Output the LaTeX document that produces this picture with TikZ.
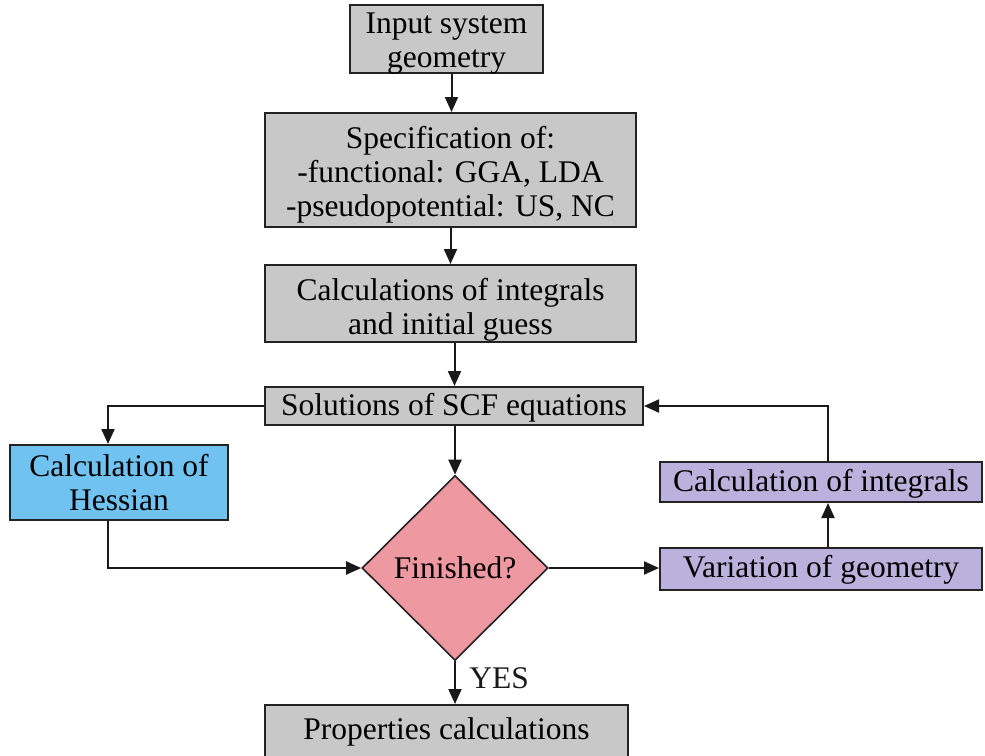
\documentclass[tikz,border=0pt]{standalone}
\usepackage{fontspec}
\setmainfont{Liberation Serif}
\usepackage{tikz}
\usetikzlibrary{shapes.geometric,arrows.meta,positioning}
\definecolor{boxgrey}{RGB}{200,200,200}
\definecolor{hessblue}{RGB}{112,194,240}
\definecolor{finpink}{RGB}{238,152,162}
\definecolor{lilac}{RGB}{186,178,220}
\definecolor{edgegrey}{RGB}{35,35,35}
% text of a box, moved down (or up) inside it
\newcommand{\lowtext}[2][6pt]{\raisebox{-#1}[\height][\depth]{\begin{tabular}{@{}c@{}}#2\end{tabular}}}

\begin{document}
\begin{tikzpicture}[x=1pt,y=-1pt, every node/.style={font=\fontsize{31.5}{34}\selectfont},
  greybox/.style={draw=edgegrey,line width=2pt,fill=boxgrey,inner sep=0pt},
  bluebox/.style={draw=edgegrey,line width=2pt,fill=hessblue,inner sep=0pt},
  lilacbox/.style={draw=edgegrey,line width=2pt,fill=lilac,inner sep=0pt},
  pinkdia/.style={diamond,draw=edgegrey,line width=1.6pt,fill=finpink,inner sep=0pt,
                  minimum width=186pt,minimum height=185pt},
  ar/.style={-{Triangle[length=15pt,width=13pt]},line width=2pt,black!90}]

\useasboundingbox (0,0) rectangle (985,755);

\node[greybox,minimum width=193pt,minimum height=67pt] (inp) at (446.5,38.5)
  {\lowtext[5pt]{Input system\\geometry}};
\node[greybox,minimum width=371pt,minimum height=114pt] (spec) at (450.5,170)
  {\lowtext[6pt]{Specification of:\\-functional: GGA, LDA\\-pseudopotential: US, NC}};
\node[greybox,minimum width=371pt,minimum height=77pt] (integ) at (450.5,303.5)
  {\lowtext[7pt]{Calculations of integrals\\and initial guess}};
\node[greybox,minimum width=378pt,minimum height=38pt] (scf) at (454,406)
  {\lowtext[3pt]{Solutions of SCF equations}};
\node[bluebox,minimum width=218pt,minimum height=75pt] (hess) at (119,482.5)
  {\lowtext[4pt]{Calculation of\\Hessian}};
\node[pinkdia] (fin) at (455,568) {Finished?};
\node[lilacbox,minimum width=322pt,minimum height=42pt] (vary) at (821,569)
  {\lowtext[2pt]{Variation of geometry}};
\node[lilacbox,minimum width=322pt,minimum height=40pt] (cint) at (821,482)
  {\lowtext[3pt]{Calculation of integrals}};
\node[greybox,minimum width=363pt,minimum height=62pt] (prop) at (446.5,736)
  {\lowtext[-3pt]{Properties calculations}};

\draw[ar] ([xshift=5pt]inp.south) -- ([xshift=5pt]inp.south |- spec.north);
\draw[ar] (spec) -- (integ);
\draw[ar] ([xshift=4pt]integ.south) -- ([xshift=4pt]integ.south |- scf.north);
\draw[ar] (scf.west) -| ([xshift=-11pt]hess.north);
\draw[ar] (scf.south -| fin) -- (fin.north);
\draw[ar] ([xshift=-11pt]hess.south) |- (fin.west);
\draw[ar] (fin.east) -- (fin.east -| vary.west);
\draw[ar] ([xshift=7pt]vary.north) -- ([xshift=7pt]cint.south);
\draw[ar] ([xshift=7pt]cint.north) |- (scf.east);
\draw[ar] (fin.south) -- (fin.south |- prop.north)
  node[pos=0.4,right=10pt] {YES};
\end{tikzpicture}
\end{document}
